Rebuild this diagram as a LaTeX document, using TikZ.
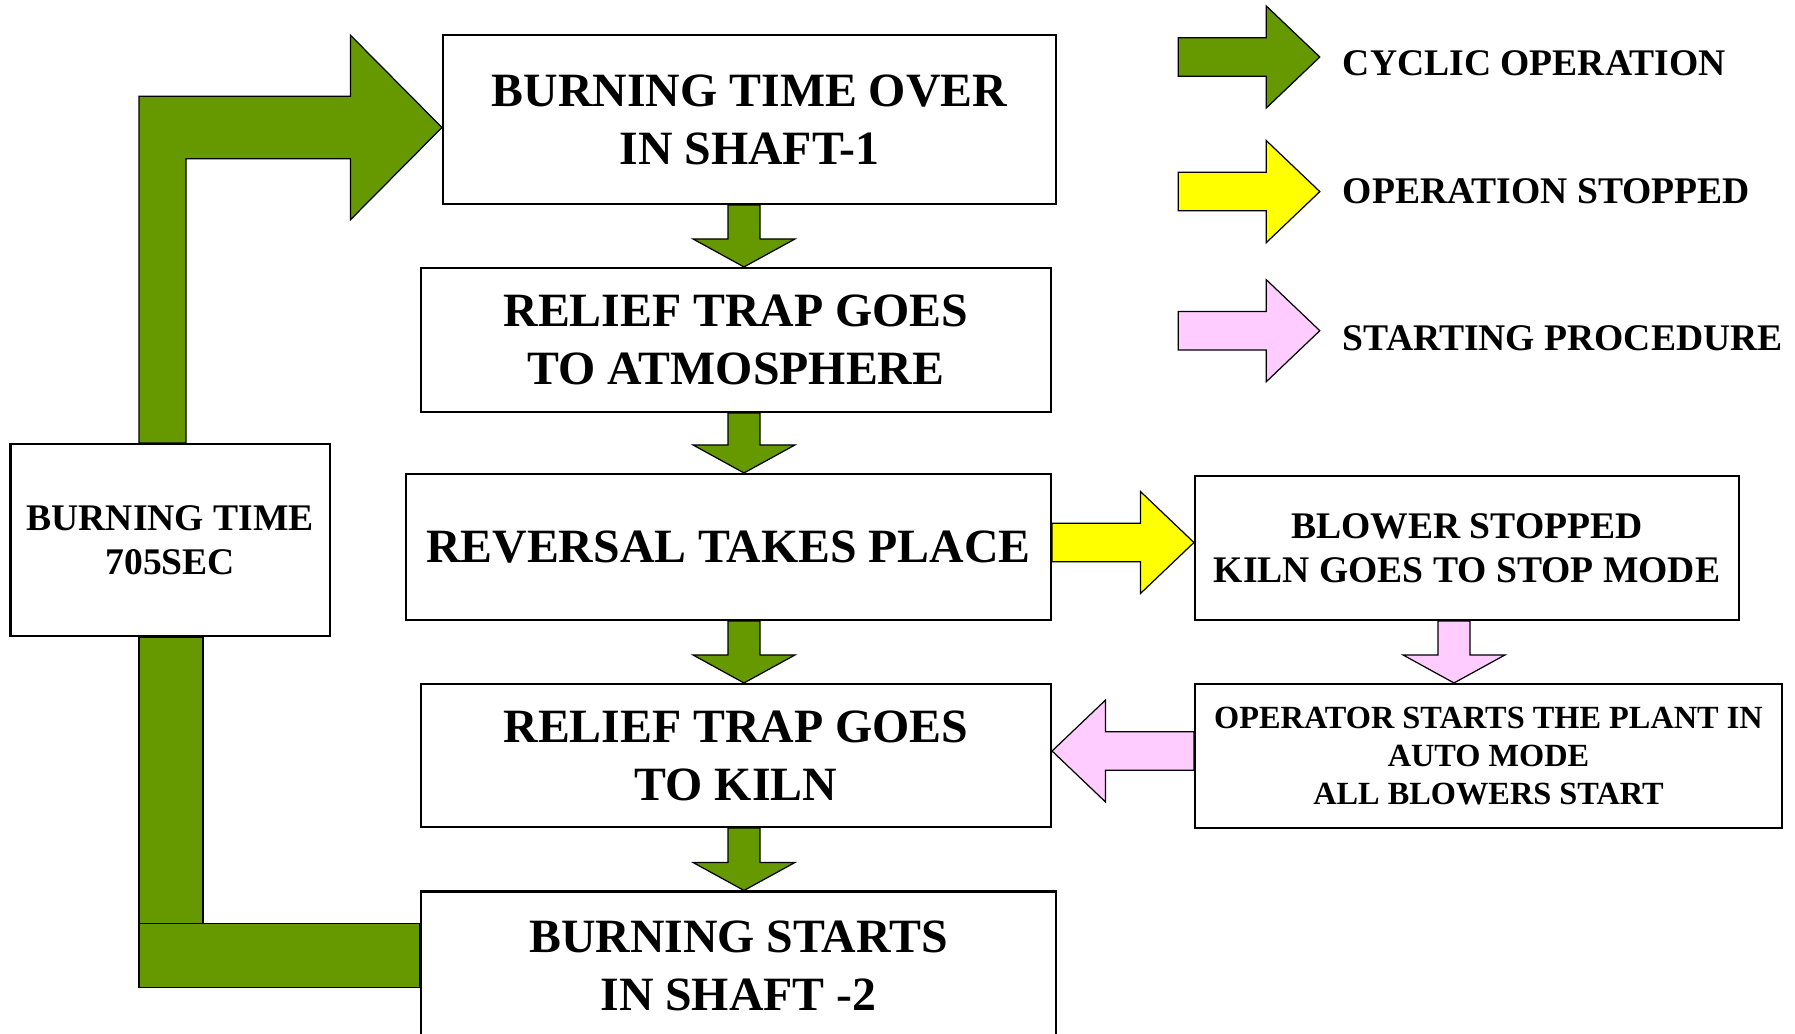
\documentclass[tikz,border=0pt]{standalone}
\usepackage{fontspec}
\setmainfont{Liberation Serif}
\usepackage{tikz}
\usetikzlibrary{calc}
\definecolor{cycgreen}{HTML}{669900}
\definecolor{stopyellow}{HTML}{FFFF00}
\definecolor{startpink}{HTML}{FFCCFF}
\tikzset{
    stage/.style={draw, line width=1.2pt, align=center, inner sep=0pt,
        font=\fontsize{27.2}{33}\selectfont\bfseries},
    smallstage/.style={stage, font=\fontsize{21.4}{25}\selectfont\bfseries},
    tinystage/.style={stage, font=\fontsize{18.4}{21.7}\selectfont\bfseries},
    legendtext/.style={anchor=west, inner sep=0pt, font=\fontsize{21.4}{25}\selectfont\bfseries},
    cyclic/.style={fill=cycgreen, draw=black, line width=0.7pt},
    stopped/.style={fill=stopyellow, draw=black, line width=0.7pt},
    starting/.style={fill=startpink, draw=black, line width=0.7pt}
}
\newcommand{\fatdown}[3]{
    \coordinate (s) at #2;
    \coordinate (e) at #3;
    \filldraw[#1] ($(s)+(-0.32,0)$) -- ($(e)+(-0.32,0.56)$) -- ($(e)+(-1.02,0.56)$) -- (e)
        -- ($(e)+(1.02,0.56)$) -- ($(e)+(0.32,0.56)$) -- ($(s)+(0.32,0)$) -- cycle;
}
\newcommand{\fatarrow}[4]{
    \coordinate (s) at #2;
    \coordinate (e) at #3;
    \filldraw[#1] ($(s)+(0,0.385)$) -- ($(e)+(#4,0.385)$) -- ($(e)+(#4,1.02)$) -- (e)
        -- ($(e)+(#4,-1.02)$) -- ($(e)+(#4,-0.385)$) -- ($(s)+(0,-0.385)$) -- cycle;
}

\begin{document}
\begin{tikzpicture}
        \useasboundingbox (0,0) rectangle (35.9,-20.66);
        \node[stage, minimum width=12.26cm, minimum height=3.38cm] (shaftone) at (14.99,-2.39) {BURNING TIME OVER\\IN SHAFT-1};
        \node[stage, minimum width=12.6cm, minimum height=2.88cm] (atmos) at (14.72,-6.80) {RELIEF TRAP GOES\\TO ATMOSPHERE};
        \node[stage, minimum width=12.9cm, minimum height=2.92cm] (reversal) at (14.57,-10.94) {REVERSAL TAKES PLACE};
        \node[stage, minimum width=12.6cm, minimum height=2.86cm] (tokiln) at (14.72,-15.11) {RELIEF TRAP GOES\\TO KILN};
        \node[stage, minimum width=12.7cm, minimum height=2.98cm] (shafttwo) at (14.77,-19.32) {BURNING STARTS\\IN SHAFT -2};
        \node[smallstage, minimum width=6.39cm, minimum height=3.84cm] (burntime) at (3.405,-10.8) {BURNING TIME\\705SEC};
        \node[smallstage, minimum width=10.88cm, minimum height=2.88cm] (blower) at (29.34,-10.96) {BLOWER STOPPED\\KILN GOES TO STOP MODE};
        \node[tinystage, minimum width=11.74cm, minimum height=2.88cm] (operator) at (29.77,-15.12) {OPERATOR STARTS THE PLANT IN\\AUTO MODE\\ALL BLOWERS START};

        \coordinate (spine) at (14.88,0);
        \coordinate (spinetwo) at (29.08,0);
        \fatdown{cyclic}{(shaftone.south -| spine)}{(atmos.north -| spine)};
        \fatdown{cyclic}{(atmos.south -| spine)}{(reversal.north -| spine)};
        \fatdown{cyclic}{(reversal.south -| spine)}{(tokiln.north -| spine)};
        \fatdown{cyclic}{(tokiln.south -| spine)}{(shafttwo.north -| spine)};
        \fatdown{starting}{(blower.south -| spinetwo)}{(operator.north -| spinetwo)};

        \coordinate (ya) at ($(reversal.east)+(0,0.09)$);
        \fatarrow{stopped}{(ya)}{(blower.west |- ya)}{-1.07};
        \coordinate (pa) at ($(operator.west)+(0,0.1)$);
        \fatarrow{starting}{(pa)}{(tokiln.east |- pa)}{1.07};

        \coordinate (lbar) at (2.78,0);
        \coordinate (rbar) at (3.72,0);
        \coordinate (tipa) at ($(shaftone.west)+(0,-0.16)$);
        \filldraw[cyclic] (burntime.north -| lbar) |- ($(tipa)+(-1.83,0.626)$) -- ++(0,1.22) -- (tipa)
            -- ++(-1.83,-1.845) -- ++(0,1.219) -| (burntime.north -| rbar) -- cycle;
        \coordinate (rbartwo) at (4.06,-18.47);
        \filldraw[cyclic] (burntime.south -| lbar) rectangle (rbartwo);
        \filldraw[cyclic] ($(lbar |- shafttwo.west)+(0,-0.434)$) rectangle (shafttwo.west |- rbartwo);

        \coordinate (lega) at (23.566,-1.14);
        \coordinate (legb) at (23.566,-3.832);
        \coordinate (legc) at (23.566,-6.614);
        \fatarrow{cyclic}{(lega)}{($(lega)+(2.83,0)$)}{-1.07};
        \fatarrow{stopped}{(legb)}{($(legb)+(2.83,0)$)}{-1.07};
        \fatarrow{starting}{(legc)}{($(legc)+(2.83,0)$)}{-1.07};
        \node[legendtext] (legtexta) at (26.85,-1.26) {CYCLIC OPERATION};
        \node[legendtext] (legtextb) at (26.85,-3.82) {OPERATION STOPPED};
        \node[legendtext] (legtextc) at (26.85,-6.76) {STARTING PROCEDURE};
    \end{tikzpicture}
\end{document}
